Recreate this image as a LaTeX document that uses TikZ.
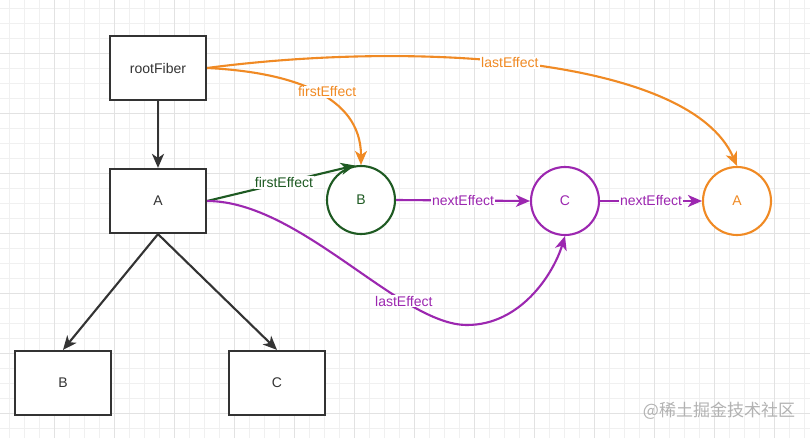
\documentclass[tikz,border=0pt]{standalone}
\usepackage{fontspec}
\setmainfont{Liberation Sans}
\newfontfamily\cjk{Noto Sans CJK SC}
\usetikzlibrary{arrows.meta}
\definecolor{gridminor}{RGB}{240,240,240}
\definecolor{gridmajor}{RGB}{226,226,226}
\definecolor{ink}{RGB}{51,51,51}
\definecolor{orng}{RGB}{240,138,36}
\definecolor{grn}{RGB}{30,90,34}
\definecolor{prpl}{RGB}{156,39,176}
\definecolor{wmark}{RGB}{178,178,178}
\begin{document}
\begin{tikzpicture}[x=1pt,y=-1pt,
  box/.style={draw=ink,line width=2.2pt,fill=white,minimum width=96pt,minimum height=64pt,inner sep=0pt,font=\fontsize{14}{16}\selectfont,text=ink},
  circ/.style={circle,line width=2.1pt,fill=white,minimum size=68pt,inner sep=0pt,font=\fontsize{14}{16}\selectfont},
  edge/.style={line width=2.1pt,-{Stealth[length=14pt,width=12pt,inset=4pt]}},
  lbl/.style={fill=white,inner sep=1pt,font=\fontsize{14}{16}\selectfont}]
\useasboundingbox (0,0) rectangle (810,438);
\fill[white] (0,0) rectangle (810,438);
% grid
\foreach \i in {0,...,53} {\draw[gridminor,line width=0.8pt] (9+15*\i,0) -- (9+15*\i,438);}
\foreach \i in {0,...,28} {\draw[gridminor,line width=0.8pt] (0,8+15*\i) -- (810,8+15*\i);}
\foreach \i in {0,...,12} {\draw[gridmajor,line width=0.9pt] (54+60*\i,0) -- (54+60*\i,438);}
\foreach \i in {0,...,6} {\draw[gridmajor,line width=0.9pt] (0,53+60*\i) -- (810,53+60*\i);}
% nodes
\node[box] (root) at (158,68) {rootFiber};
\node[box] (A) at (158,201) {A};
\node[box] (Bb) at (63,383) {B};
\node[box] (Cb) at (277,383) {C};
\node[circ,draw=grn,text=grn] (Bc) at (361,200) {B};
\node[circ,draw=prpl,text=prpl] (Cc) at (565,201) {C};
\node[circ,draw=orng,text=orng] (Ac) at (737,201) {A};
\coordinate (low) at (467,325);
% tree edges
\draw[edge,ink] (root) -- (A);
\draw[edge,ink] (A.south) -- (Bb.north);
\draw[edge,ink] (A.south) -- (Cb.north);
% orange
\draw[edge,orng] (root.east) .. controls (420,40) and (690,58) .. (Ac.north) node[lbl,pos=0.46,text=orng] {lastEffect};
\draw[edge,orng] (root.east) .. controls (290,72) and (361,95) .. (Bc.north) node[lbl,pos=0.5,xshift=12pt,text=orng] {firstEffect};
% green
\draw[edge,grn] (A.east) -- (Bc.100) node[lbl,pos=0.52,text=grn] {firstEffect};
% purple
\draw[edge,prpl] (Bc.east) -- (Cc.west) node[lbl,midway,text=prpl] {nextEffect};
\draw[edge,prpl] (Cc.east) -- (Ac.west) node[lbl,midway,text=prpl] {nextEffect};
\draw[edge,prpl] (A.east) .. controls (300,201) and (400,325) .. (low) node[lbl,pos=0.72,text=prpl] {lastEffect} .. controls (520,325) and (553,275) .. (Cc.south);
% watermark
\node[text=wmark,font=\cjk\fontsize{17}{19}\selectfont,inner sep=0pt] (wm) at (719,411) {@稀土掘金技术社区};
\end{tikzpicture}
\end{document}
